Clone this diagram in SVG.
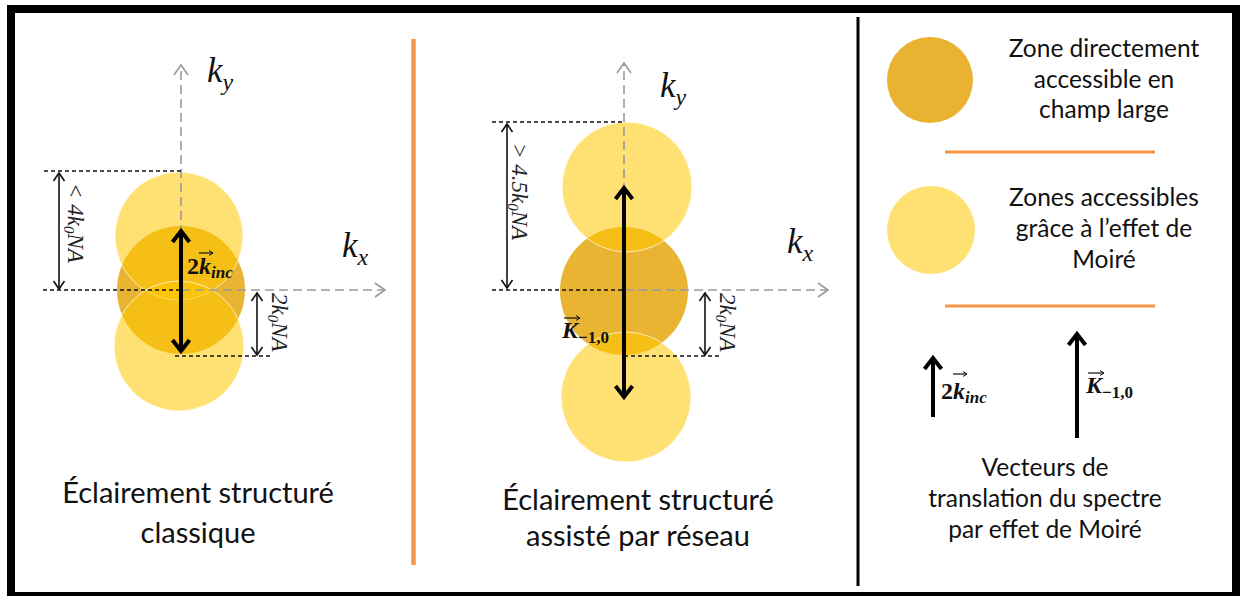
<svg xmlns="http://www.w3.org/2000/svg" width="1240" height="596" viewBox="0 0 1240 596">
<style>
.cap{font-family:Lato,"Open Sans",sans-serif;font-size:29px;fill:#111;text-anchor:middle}
.leg{font-family:Lato,"Open Sans",sans-serif;font-size:24.5px;fill:#111;text-anchor:middle}
.math{font-family:"Liberation Serif",serif;font-style:italic;font-size:35px;fill:#111}
.msub{font-size:24px}
.dim{font-family:"Liberation Serif",serif;font-style:italic;font-size:23px;fill:#222}
.dsub{font-size:15px}
.vec{font-family:"Liberation Serif",serif;font-weight:bold;font-size:24px;fill:#111}
.vit{font-style:italic}
.vsub{font-size:17px;font-style:italic}
.vsub2{font-size:17px}
.axis{stroke:#9a9a9a;stroke-width:1.6;stroke-dasharray:9 5;fill:none}
.dash{stroke:#111;stroke-width:1.3;stroke-dasharray:4 3;fill:none}
.dimln{stroke:#111;stroke-width:1.6;fill:none}
.big{stroke:#000;stroke-width:4;fill:none}
.dark{fill:#E8B432}
.light{fill:#FFC800;fill-opacity:0.55;stroke:#fff;stroke-opacity:0.7;stroke-width:1}
.ovarrow{stroke:#111;stroke-width:1.2;fill:none}
</style>
<defs>
<marker id="hd" viewBox="-10 -7 12 14" markerWidth="12" markerHeight="14" refX="0" refY="0" orient="auto-start-reverse" markerUnits="userSpaceOnUse">
<path d="M-8,-5.5 L0,0 L-8,5.5" fill="none" stroke="#111" stroke-width="1.6"/>
</marker>
<marker id="ha" viewBox="-12 -9 14 18" markerWidth="14" markerHeight="18" refX="0" refY="0" orient="auto" markerUnits="userSpaceOnUse">
<path d="M-10,-7 L0,0 L-10,7" fill="none" stroke="#9a9a9a" stroke-width="1.6"/>
</marker>
<marker id="hb" viewBox="-14 -12 18 24" markerWidth="18" markerHeight="24" refX="0" refY="0" orient="auto-start-reverse" markerUnits="userSpaceOnUse">
<path d="M-11,-8.5 L0,0 L-11,8.5" fill="none" stroke="#000" stroke-width="4"/>
</marker>
<marker id="hv" viewBox="-6 -4 7 8" markerWidth="7" markerHeight="8" refX="0" refY="0" orient="auto" markerUnits="userSpaceOnUse">
<path d="M-4,-2.5 L0,0 L-4,2.5" fill="none" stroke="#111" stroke-width="1"/>
</marker>
</defs>
<rect x="0" y="0" width="1240" height="596" fill="#fff"/>
<rect x="11" y="9" width="1225" height="587" fill="none" stroke="#000" stroke-width="8"/>

<g id="dividers">
<line x1="413.5" y1="39" x2="413.5" y2="565" stroke="#F79646" stroke-width="4.5"/>
<line x1="858" y1="17" x2="858" y2="586" stroke="#000" stroke-width="3"/>
</g>

<g id="panel-classique">
<circle class="dark" cx="181" cy="290" r="64"/>
<circle class="light" cx="179" cy="236" r="64"/>
<circle class="light" cx="179" cy="346" r="65"/>
<line class="axis" x1="181" y1="290" x2="385" y2="290" marker-end="url(#ha)"/>
<line class="axis" x1="181" y1="290" x2="181" y2="65" marker-end="url(#ha)"/>
<line class="dash" x1="44" y1="171" x2="181" y2="171"/>
<line class="dash" x1="43" y1="290" x2="181" y2="290"/>
<line class="dash" x1="175" y1="356" x2="272" y2="356"/>
<line class="dimln" x1="59" y1="173" x2="59" y2="289" marker-start="url(#hd)" marker-end="url(#hd)"/>
<line class="dimln" x1="257" y1="293" x2="257" y2="355" marker-start="url(#hd)" marker-end="url(#hd)"/>
<text class="dim" transform="translate(68,183) rotate(90)">&lt; 4k<tspan class="dsub" dy="4">0</tspan><tspan dy="-4">NA</tspan></text>
<text class="dim" font-size="21" transform="translate(272,293) rotate(90)">2k<tspan class="dsub" dy="4">0</tspan><tspan dy="-4">NA</tspan></text>
<line class="big" x1="181" y1="231" x2="181" y2="351" marker-start="url(#hb)" marker-end="url(#hb)"/>
<text class="vec" x="187" y="274">2<tspan class="vit">k</tspan><tspan class="vsub" dy="4">inc</tspan></text>
<line class="ovarrow" x1="199" y1="253" x2="213" y2="253" marker-end="url(#hv)"/>
<text class="math" x="207" y="82">k<tspan class="msub" dy="8">y</tspan></text>
<text class="math" x="342" y="257">k<tspan class="msub" dy="8">x</tspan></text>
<text class="cap" x="198" y="503">Éclairement structuré</text>
<text class="cap" x="198" y="543">classique</text>
</g>

<g id="panel-reseau">
<circle class="dark" cx="624" cy="291" r="64"/>
<circle class="light" cx="627" cy="187" r="65"/>
<circle class="light" cx="626" cy="397" r="65"/>
<line class="axis" x1="624" y1="290" x2="828" y2="290" marker-end="url(#ha)"/>
<line class="axis" x1="624" y1="290" x2="624" y2="63" marker-end="url(#ha)"/>
<line class="dash" x1="492" y1="122" x2="624" y2="122"/>
<line class="dash" x1="492" y1="290" x2="624" y2="290"/>
<line class="dash" x1="624" y1="356" x2="722" y2="356"/>
<line class="dimln" x1="507" y1="124" x2="507" y2="288" marker-start="url(#hd)" marker-end="url(#hd)"/>
<line class="dimln" x1="705" y1="293" x2="705" y2="355" marker-start="url(#hd)" marker-end="url(#hd)"/>
<text class="dim" font-size="25" transform="translate(512,143) rotate(90)">&gt; 4.5k<tspan class="dsub" font-size="17" dy="4">0</tspan><tspan dy="-4">NA</tspan></text>
<text class="dim" font-size="21" transform="translate(720,293) rotate(90)">2k<tspan class="dsub" dy="4">0</tspan><tspan dy="-4">NA</tspan></text>
<line class="big" x1="624" y1="188" x2="624" y2="397" marker-start="url(#hb)" marker-end="url(#hb)"/>
<text class="vec" x="562" y="338"><tspan class="vit">K</tspan><tspan class="vsub2" dy="5">−1,0</tspan></text>
<line class="ovarrow" x1="564" y1="318" x2="580" y2="318" marker-end="url(#hv)"/>
<text class="math" x="660" y="97">k<tspan class="msub" dy="8">y</tspan></text>
<text class="math" x="787" y="253">k<tspan class="msub" dy="8">x</tspan></text>
<text class="cap" x="638" y="510">Éclairement structuré</text>
<text class="cap" x="638" y="546">assisté par réseau</text>
</g>

<g id="legend-direct">
<circle cx="930" cy="80" r="43" fill="#E9B331"/>
<text class="leg" x="1104" y="57">Zone directement</text>
<text class="leg" x="1104" y="88">accessible en</text>
<text class="leg" x="1104" y="118">champ large</text>
</g>
<g id="legend-sep">
<line x1="945" y1="152" x2="1155" y2="152" stroke="#F79646" stroke-width="3"/>
<line x1="945" y1="306" x2="1155" y2="306" stroke="#F79646" stroke-width="3"/>
</g>
<g id="legend-moire">
<circle cx="931" cy="230" r="44" fill="#FFC800" fill-opacity="0.55"/>
<text class="leg" x="1104" y="206">Zones accessibles</text>
<text class="leg" x="1104" y="237">grâce à l’effet de</text>
<text class="leg" x="1104" y="268">Moiré</text>
</g>
<g id="legend-vectors">
<line class="big" x1="933" y1="417" x2="933" y2="358" marker-end="url(#hb)"/>
<text class="vec" x="941" y="399">2<tspan class="vit">k</tspan><tspan class="vsub" dy="4">inc</tspan></text>
<line class="ovarrow" x1="953" y1="374" x2="967" y2="374" marker-end="url(#hv)"/>
<line class="big" x1="1077" y1="438" x2="1077" y2="334" marker-end="url(#hb)"/>
<text class="vec" x="1086" y="393"><tspan class="vit">K</tspan><tspan class="vsub2" dy="5">−1,0</tspan></text>
<line class="ovarrow" x1="1088" y1="373" x2="1104" y2="373" marker-end="url(#hv)"/>
<text class="leg" x="1045" y="476">Vecteurs de</text>
<text class="leg" x="1045" y="507">translation du spectre</text>
<text class="leg" x="1045" y="538">par effet de Moiré</text>
</g>
</svg>
